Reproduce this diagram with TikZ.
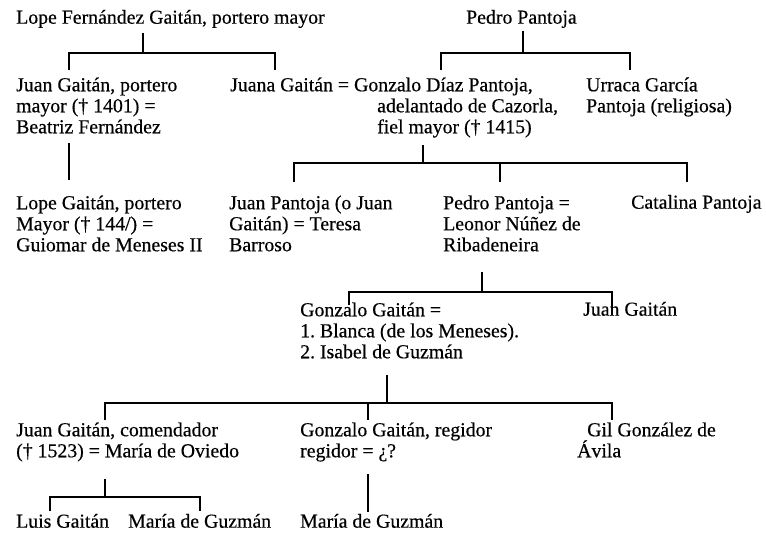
\documentclass[tikz,border=0pt]{standalone}
\usepackage{fontspec}
\setmainfont{Liberation Serif}[FakeBold=0.4]
\usepackage{tikz}
\newcommand{\treefont}{\fontsize{19.8}{21}\selectfont\frenchspacing}

\begin{document}
\begin{tikzpicture}[x=1pt, y=-1pt,
  person/.style={anchor=north west, inner sep=0pt, align=left, font=\treefont,
    execute at begin node=\strut, execute at end node=\strut},
  kin/.style={line width=1.4pt}]
\useasboundingbox (0,0) rectangle (766,535);

\node[person] (lopeF) at (16,8.8) {Lope Fernández Gaitán, portero mayor};
\node[person] (pedroP) at (466,8.8) {Pedro Pantoja};
\node[person] (juanG) at (16,77.3) {Juan Gaitán, portero\\mayor († 1401) =\\Beatriz Fernández};
\node[person] (juana) at (230,77.3) {Juana Gaitán = Gonzalo Díaz Pantoja,\\\hspace*{147pt}adelantado de Cazorla,\\\hspace*{147pt}fiel mayor († 1415)};
\node[person] (urraca) at (586,77.3) {Urraca García\\Pantoja (religiosa)};
\node[person] (lopeG) at (16,195.3) {Lope Gaitán, portero\\Mayor († 144/) =\\Guiomar de Meneses II};
\node[person] (juanP) at (229,195.3) {Juan Pantoja (o Juan\\Gaitán) = Teresa\\Barroso};
\node[person] (pedroL) at (443,195.3) {Pedro Pantoja =\\Leonor Núñez de\\Ribadeneira};
\node[person] (catalina) at (631,193.8) {Catalina Pantoja};
\node[person] (gonzaloG) at (300,302.3) {Gonzalo Gaitán =\\1. Blanca (de los Meneses).\\2. Isabel de Guzmán};
\node[person] (juanGb) at (583,300.8) {Juan Gaitán};
\node[person] (juanC) at (16,422.3) {Juan Gaitán, comendador\\(† 1523) = María de Oviedo};
\node[person] (gonzaloR) at (300,422.3) {Gonzalo Gaitán, regidor\\regidor = ¿?};
\node[person] (gil) at (577,422.3) {\hspace*{10pt}Gil González de\\Ávila};
\node[person] (luis) at (16,512.8) {Luis Gaitán};
\node[person] (mariaA) at (128,512.8) {María de Guzmán};
\node[person] (mariaB) at (300,512.8) {María de Guzmán};

\coordinate (b1m) at (143,53);
\coordinate (b1l) at (69,53);
\coordinate (b1r) at (275,53);
\draw[kin] ([yshift=-2.5pt]lopeF.south -| b1m) -- (b1m);
\draw[kin] ([yshift=7pt]juanG.north -| b1l) -- (b1l) -- (b1r) -- ([yshift=7pt]juana.north -| b1r);

\coordinate (b2m) at (523,53);
\coordinate (b2l) at (441,53);
\coordinate (b2r) at (630,53);
\draw[kin] ([yshift=-0.5pt]pedroP.south -| b2m) -- (b2m);
\draw[kin] ([yshift=7pt]juana.north -| b2l) -- (b2l) -- (b2r) -- ([yshift=7pt]urraca.north -| b2r);

\coordinate (s1) at (69,0);
\draw[kin] ([yshift=-3pt]juanG.south -| s1) -- ([yshift=15pt]lopeG.north -| s1);

\coordinate (b3m) at (423,163);
\coordinate (b3l) at (294,163);
\coordinate (b3c) at (500,163);
\coordinate (b3r) at (687,163);
\draw[kin] ([yshift=-5pt]juana.south -| b3m) -- (b3m);
\draw[kin] ([yshift=13pt]juanP.north -| b3l) -- (b3l) -- (b3r) -- ([yshift=11.5pt]catalina.north -| b3r);
\draw[kin] (b3c) -- ([yshift=13pt]pedroL.north -| b3c);

\coordinate (b4m) at (482,292);
\coordinate (b4l) at (349,292);
\coordinate (b4r) at (612,292);
\draw[kin] ([yshift=-14pt]pedroL.south -| b4m) -- (b4m);
\draw[kin] ([yshift=-3pt]gonzaloG.north -| b4l) -- (b4l) -- (b4r) -- ([yshift=-6.5pt]juanGb.north -| b4r);

\coordinate (b5m) at (387,403);
\coordinate (b5l) at (105,403);
\coordinate (b5c) at (368,403);
\coordinate (b5r) at (612,403);
\draw[kin] ([yshift=-10pt]gonzaloG.south -| b5m) -- (b5m);
\draw[kin] ([yshift=2pt]juanC.north -| b5l) -- (b5l) -- (b5r) -- ([yshift=2pt]gil.north -| b5r);
\draw[kin] (b5c) -- ([yshift=2pt]gonzaloR.north -| b5c);

\coordinate (b6m) at (105,497);
\coordinate (b6l) at (50,497);
\coordinate (b6r) at (200,497);
\draw[kin] ([yshift=-15pt]juanC.south -| b6m) -- (b6m);
\draw[kin] ([yshift=1.5pt]luis.north -| b6l) -- (b6l) -- (b6r) -- ([yshift=1.5pt]mariaA.north -| b6r);

\coordinate (s2) at (368,0);
\draw[kin] ([yshift=-10pt]gonzaloR.south -| s2) -- ([yshift=0.5pt]mariaB.north -| s2);
\end{tikzpicture}
\end{document}
